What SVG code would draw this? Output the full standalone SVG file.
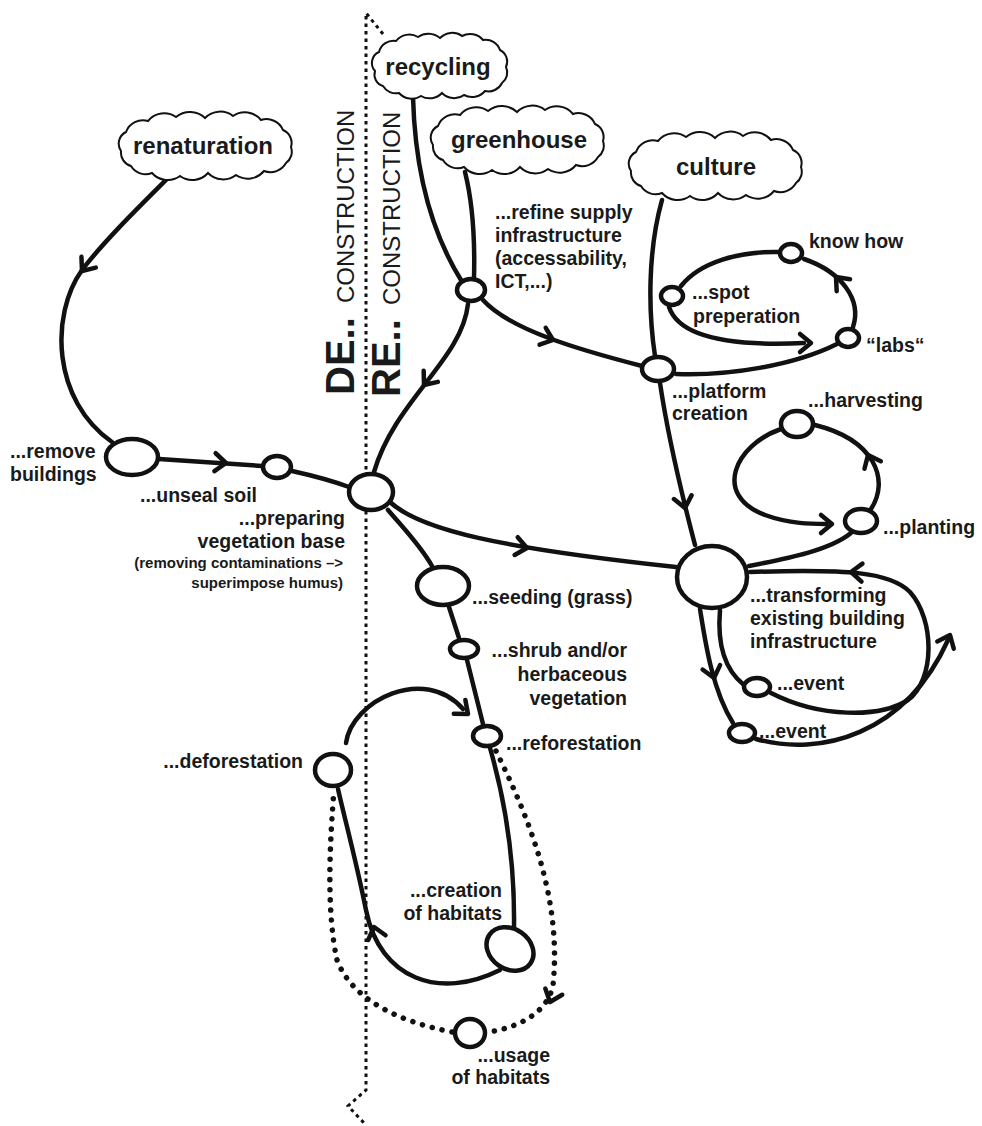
<svg xmlns="http://www.w3.org/2000/svg" xmlns:xlink="http://www.w3.org/1999/xlink" width="982" height="1126" viewBox="0 0 982 1126">
<style>
.bg{fill:#ffffff}
.edge{fill:none;stroke:#111;stroke-width:4.5;stroke-linecap:round;stroke-linejoin:round}
.dots{fill:none;stroke:#111;stroke-width:5.5;stroke-linecap:round;stroke-dasharray:0.1 10}
.axis{fill:none;stroke:#111;stroke-width:3;stroke-dasharray:3.5 4}
.node{fill:#fff;stroke:#111;stroke-width:4.5}
.cloud{fill:#fff;stroke:#111;stroke-width:2}
.chev{fill:none;stroke:#111;stroke-width:4.5;stroke-linecap:round;stroke-linejoin:round}
.ct{font-family:"Liberation Sans",Arial,sans-serif;font-weight:bold;font-size:24px;fill:#1a1a1a;text-anchor:middle}
.lb{font-family:"Liberation Sans",Arial,sans-serif;font-weight:bold;font-size:19.5px;fill:#1a1a1a}
.sm{font-family:"Liberation Sans",Arial,sans-serif;font-weight:bold;font-size:15px;fill:#1a1a1a}
.big{font-family:"Liberation Sans",Arial,sans-serif;font-weight:bold;font-size:40px;fill:#1a1a1a}
.cons{font-family:"Liberation Sans",Arial,sans-serif;font-size:24px;fill:#1a1a1a}
.r{text-anchor:end}
</style>
<defs>
<path id="chev" class="chev" d="M -11 -9 L 0 0 L -11 9"/>
<path id="cloudL" class="cloud" d="M -84 5 A 13 13 0 0 1 -79 -14 A 18 18 0 0 1 -57 -25 A 21 21 0 0 1 -29 -29 A 22 22 0 0 1 0 -28 A 21 21 0 0 1 28 -30 A 21 21 0 0 1 56 -26 A 18 18 0 0 1 78 -16 A 14 14 0 0 1 86 1 A 14 14 0 0 1 81 17 A 18 18 0 0 1 59 25 A 21 21 0 0 1 31 29 A 21 21 0 0 1 3 27 A 21 21 0 0 1 -25 30 A 21 21 0 0 1 -53 27 A 17 17 0 0 1 -74 20 A 14 14 0 0 1 -84 5 Z"/>
<path id="cloudS" class="cloud" d="M -65 5 A 12 12 0 0 1 -61 -14 A 15 15 0 0 1 -44 -25 A 17 17 0 0 1 -22 -29 A 18 18 0 0 1 0 -28 A 17 17 0 0 1 22 -30 A 17 17 0 0 1 43 -26 A 15 15 0 0 1 60 -16 A 13 13 0 0 1 66 1 A 13 13 0 0 1 62 17 A 15 15 0 0 1 45 25 A 17 17 0 0 1 24 29 A 17 17 0 0 1 2 27 A 17 17 0 0 1 -19 30 A 17 17 0 0 1 -41 27 A 15 15 0 0 1 -57 20 A 12 12 0 0 1 -65 5 Z"/>
</defs>
<rect class="bg" x="0" y="0" width="982" height="1126"/>

<g id="divider">
<path class="axis" d="M 383 34 L 366 13 L 366 1090 L 348 1106 L 365 1124"/>
<text class="big" transform="translate(354,395) rotate(-90)">DE..</text>
<text class="cons" transform="translate(354,303) rotate(-90)">CONSTRUCTION</text>
<text class="big" transform="translate(400,397) rotate(-90)">RE..</text>
<text class="cons" transform="translate(400,305) rotate(-90)">CONSTRUCTION</text>
</g>

<g id="connectors">
<path class="edge" d="M 413 97 C 415 170, 430 230, 461 280"/>
<path class="edge" d="M 465 172 C 472 200, 475 240, 474 278"/>
<path class="edge" d="M 468 304 C 462 360, 395 400, 374 472"/>
<use href="#chev" transform="translate(424,385) rotate(128)"/>
<path class="edge" d="M 483 300 C 510 330, 580 350, 642 366"/>
<use href="#chev" transform="translate(553,340) rotate(20)"/>
<path class="edge" d="M 662 200 C 648 250, 648 310, 655 356"/>
<path class="edge" d="M 660 383 C 667 430, 678 480, 695 545"/>
<use href="#chev" transform="translate(685,508) rotate(78)"/>
<path class="edge" d="M 676 374 C 730 376, 795 365, 837 344"/>
<path class="edge" d="M 853 327 C 862 300, 842 272, 804 259"/>
<use href="#chev" transform="translate(836,277) rotate(-132)"/>
<path class="edge" d="M 779 252 C 740 251, 700 262, 681 286"/>
<path class="edge" d="M 669 307 C 680 340, 740 346, 804 343"/>
<use href="#chev" transform="translate(811,343) rotate(0)"/>
<path class="edge" d="M 749 566 C 790 558, 830 550, 851 533"/>
<path class="edge" d="M 871 509 C 890 480, 875 440, 815 425"/>
<use href="#chev" transform="translate(868,455) rotate(-115)"/>
<path class="edge" d="M 781 429 C 735 445, 712 495, 765 515 C 790 524, 812 524, 826 524"/>
<use href="#chev" transform="translate(832,524) rotate(0)"/>
<path class="edge" d="M 720 610 C 717 645, 725 670, 744 685"/>
<path class="edge" d="M 771 693 C 820 718, 880 718, 908 700 C 935 680, 935 620, 910 592 C 890 572, 850 569, 750 572"/>
<use href="#chev" transform="translate(851,572) rotate(183)"/>
<path class="edge" d="M 700 609 C 705 640, 712 690, 733 723"/>
<use href="#chev" transform="translate(714,678) rotate(76)"/>
<path class="edge" d="M 756 739 C 820 757, 905 735, 948 640"/>
<use href="#chev" transform="translate(950,635) rotate(-66)"/>
<path class="edge" d="M 390 502 C 420 530, 500 548, 676 567"/>
<use href="#chev" transform="translate(527,548) rotate(10)"/>
<path class="edge" d="M 388 510 C 405 530, 420 545, 432 566"/>
<path class="edge" d="M 449 607 L 459 638"/>
<path class="edge" d="M 467 660 L 483 724"/>
<path class="edge" d="M 292 471 C 310 475, 330 480, 349 487"/>
<path class="edge" d="M 159 459 L 262 466"/>
<use href="#chev" transform="translate(226,463) rotate(4)"/>
<path class="edge" d="M 172 174 C 140 206, 105 240, 82 270 C 50 315, 52 400, 112 442"/>
<use href="#chev" transform="translate(82,271) rotate(127)"/>
<path class="edge" d="M 346 743 C 352 700, 425 665, 463 709"/>
<use href="#chev" transform="translate(468,714) rotate(40)"/>
<path class="edge" d="M 490 748 C 505 800, 515 860, 514 928"/>
<path class="edge" d="M 500 970 C 440 1000, 380 980, 366 910 C 356 860, 345 820, 338 789"/>
<use href="#chev" transform="translate(374,927) rotate(-105)"/>
<path class="dots" d="M 496 751 C 530 820, 562 900, 553 985 C 548 1012, 520 1027, 489 1032"/>
<use href="#chev" transform="translate(550,1002) rotate(110)"/>
<path class="dots" d="M 452 1032 C 400 1022, 352 1000, 337 960 C 326 910, 330 840, 334 790"/>
</g>

<g id="n-recycling"><use href="#cloudS" transform="translate(440,66)"/><text class="ct" x="438" y="75">recycling</text></g>
<g id="n-greenhouse"><use href="#cloudL" transform="translate(517,140)"/><text class="ct" x="519" y="148">greenhouse</text></g>
<g id="n-culture"><use href="#cloudL" transform="translate(715,166)"/><text class="ct" x="716" y="175">culture</text></g>
<g id="n-renaturation"><use href="#cloudL" transform="translate(205,146)"/><text class="ct" x="203" y="154">renaturation</text></g>

<g id="n-infrastructure"><ellipse class="node" cx="471" cy="290" rx="14" ry="11"/>
<text class="lb" x="495" y="219">...refine supply</text><text class="lb" x="495" y="242">infrastructure</text><text class="lb" x="495" y="265">(accessability,</text><text class="lb" x="495" y="288">ICT,...)</text></g>
<g id="n-platform"><ellipse class="node" cx="658" cy="369" rx="16" ry="12"/>
<text class="lb" x="672" y="398">...platform</text><text class="lb" x="672" y="420">creation</text></g>
<g id="n-spot"><ellipse class="node" cx="672" cy="296" rx="11" ry="9"/>
<text class="lb" x="692" y="299">...spot</text><text class="lb" x="693" y="323">preperation</text></g>
<g id="n-knowhow"><ellipse class="node" cx="791" cy="253" rx="11" ry="9"/>
<text class="lb" x="809" y="248">know how</text></g>
<g id="n-labs"><ellipse class="node" cx="848" cy="338" rx="11" ry="9"/>
<text class="lb" x="866" y="352">“labs“</text></g>
<g id="n-harvesting"><ellipse class="node" cx="797" cy="424" rx="16" ry="13"/>
<text class="lb" x="808" y="407">...harvesting</text></g>
<g id="n-planting"><ellipse class="node" cx="861" cy="521" rx="16" ry="12"/>
<text class="lb" x="883" y="534">...planting</text></g>
<g id="n-transforming"><ellipse class="node" cx="712" cy="577" rx="35" ry="31"/>
<text class="lb" x="750" y="602">...transforming</text><text class="lb" x="750" y="625">existing building</text><text class="lb" x="750" y="648">infrastructure</text></g>
<g id="n-event1"><ellipse class="node" cx="757" cy="687" rx="13" ry="9"/>
<text class="lb" x="777" y="690">...event</text></g>
<g id="n-event2"><ellipse class="node" cx="742" cy="733" rx="13" ry="9"/>
<text class="lb" x="759" y="738">...event</text></g>
<g id="n-remove"><ellipse class="node" cx="132" cy="457" rx="26" ry="18"/>
<text class="lb" x="10" y="458">...remove</text><text class="lb" x="10" y="481">buildings</text></g>
<g id="n-unseal"><ellipse class="node" cx="277" cy="467" rx="14" ry="11"/>
<text class="lb" x="140" y="502">...unseal soil</text></g>
<g id="n-preparing"><ellipse class="node" cx="371" cy="492" rx="22" ry="18"/>
<text class="lb r" x="345" y="525">...preparing</text><text class="lb r" x="345" y="548">vegetation base</text>
<text class="sm r" x="343" y="568">(removing contaminations –&gt;</text><text class="sm r" x="343" y="588">superimpose humus)</text></g>
<g id="n-seeding"><ellipse class="node" cx="443" cy="586" rx="26" ry="19"/>
<text class="lb" x="472" y="604">...seeding (grass)</text></g>
<g id="n-shrub"><ellipse class="node" cx="464" cy="649" rx="14" ry="9"/>
<text class="lb r" x="627" y="657">...shrub and/or</text><text class="lb r" x="627" y="681">herbaceous</text><text class="lb r" x="627" y="705">vegetation</text></g>
<g id="n-reforestation"><ellipse class="node" cx="487" cy="736" rx="14" ry="10"/>
<text class="lb" x="506" y="750">...reforestation</text></g>
<g id="n-deforestation"><ellipse class="node" cx="333" cy="770" rx="18" ry="16"/>
<text class="lb r" x="303" y="768">...deforestation</text></g>
<g id="n-creation"><ellipse class="node" cx="510" cy="949" rx="25" ry="20" transform="rotate(35 510 949)"/>
<text class="lb r" x="502" y="897">...creation</text><text class="lb r" x="502" y="920">of habitats</text></g>
<g id="n-usage"><ellipse class="node" cx="470" cy="1033" rx="15" ry="14"/>
<text class="lb r" x="550" y="1062">...usage</text><text class="lb r" x="550" y="1084">of habitats</text></g>
</svg>
